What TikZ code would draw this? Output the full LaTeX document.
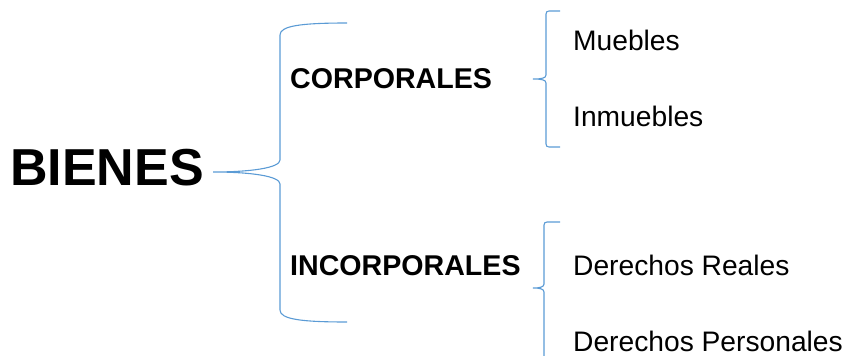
\documentclass[tikz,border=0pt]{standalone}
\usepackage{fontspec}
\setmainfont{Liberation Sans}
\tikzset{
  brace/.style={draw=bracecol,line width=1.1pt},
  title/.style={anchor=base west,inner sep=0pt,font=\fontsize{52}{56}\selectfont\bfseries},
  group/.style={anchor=base west,inner sep=0pt,font=\fontsize{28.6}{32}\selectfont\bfseries},
  item/.style={anchor=base west,inner sep=0pt,font=\fontsize{28.2}{32}\selectfont}
}
\definecolor{bracecol}{HTML}{5B9BD5}
\begin{document}
\begin{tikzpicture}[x=1pt,y=-1pt]
\useasboundingbox (0,0) rectangle (854,356);

\node[title] (bienes) at (10,185) {BIENES};

\node[group] (corp) at (290,88) {CORPORALES};
\node[group] (incorp) at (290,275) {INCORPORALES};

\node[item] (muebles) at (573,50) {Muebles};
\node[item] (inmuebles) at (573,126) {Inmuebles};
\node[item] (dreales) at (573,275) {Derechos Reales};
\node[item] (dpers) at (573,351) {Derechos Personales};

% big brace
\coordinate (b0) at (213,172);
\draw[brace] (347,23) .. controls (300,23) and (280,26) .. (280,35) -- (280,160)
  .. controls (280,168) and (250,172) .. (b0)
  .. controls (250,172) and (280,176) .. (280,184) -- (280,310)
  .. controls (280,319) and (300,322) .. (347,322);

% small braces
\coordinate (c0) at (533,79);
\draw[brace] (560,11) -- (549,11) .. controls (547,11) and (546,12) .. (546,14) -- (546,75)
  .. controls (546,78) and (542,79) .. (c0)
  .. controls (542,79) and (546,80) .. (546,83) -- (546,144)
  .. controls (546,146) and (547,147) .. (549,147) -- (560,147);

\coordinate (c1) at (533,288);
\draw[brace] (560,222) -- (547,222) .. controls (545,222) and (544,223) .. (544,225) -- (544,284)
  .. controls (544,287) and (540,288) .. (c1)
  .. controls (540,288) and (544,289) .. (544,292) -- (544,356);
\end{tikzpicture}
\end{document}
